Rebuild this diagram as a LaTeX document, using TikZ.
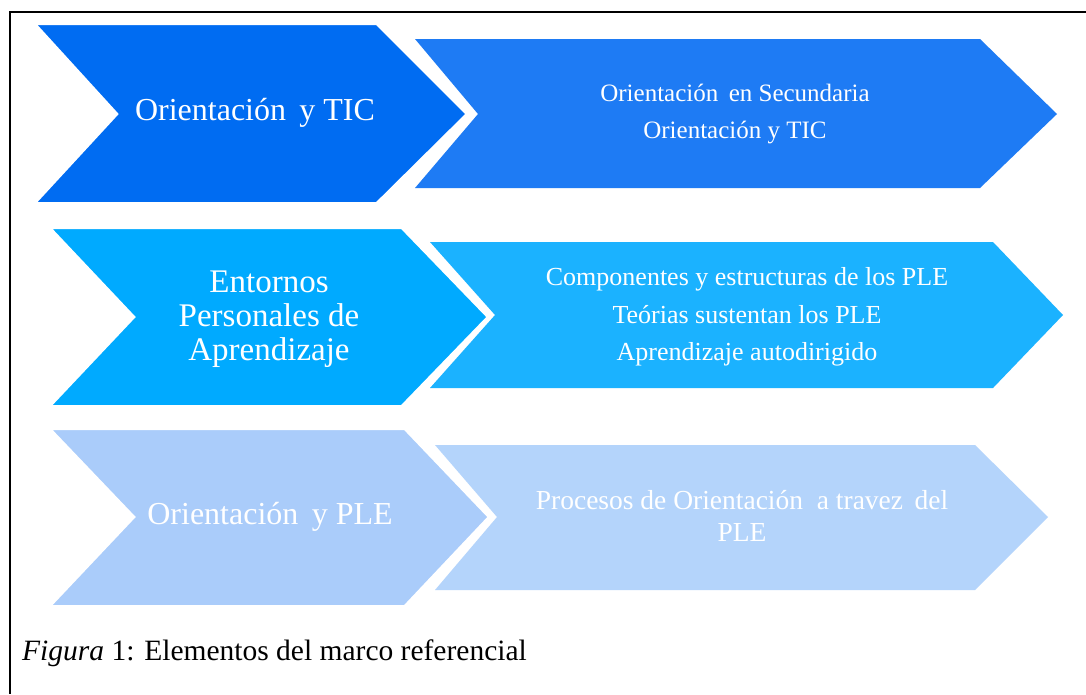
\documentclass[tikz,border=0pt]{standalone}
\usepackage{fontspec}
\setmainfont{Liberation Serif}
\definecolor{cOneL}{RGB}{0,108,242}
\definecolor{cOneR}{RGB}{30,123,244}
\definecolor{cTwoL}{RGB}{0,170,255}
\definecolor{cTwoR}{RGB}{27,178,255}
\definecolor{cThrL}{RGB}{170,204,250}
\definecolor{cThrR}{RGB}{180,212,251}
\tikzset{
  chevL/.style={draw=white,line width=4pt,line join=miter},
  chevR/.style={draw=none},
  bigtxt/.style={text=white,align=center,font=\fontsize{32}{34}\selectfont,inner sep=0pt},
  smalltxt/.style={text=white,align=center,font=\fontsize{25}{37}\selectfont,inner sep=0pt},
}
\begin{document}
\begin{tikzpicture}[x=1pt,y=-1pt]
\useasboundingbox (0,0) rectangle (1086,694);
\fill[white] (0,0) rectangle (1086,694);
% frame
\draw[line width=2.5pt] (1086,12) -- (10,12) -- (10,694);
% row 1
\fill[cOneR,chevR] (415,39) -- (980,39) -- (1057,114) -- (980,188) -- (415,188) -- (478,114) -- cycle;
\filldraw[fill=cOneL,chevL] (33,23) -- (377,23) -- (468,114) -- (377,204) -- (33,204) -- (116,114) -- cycle;
\node[bigtxt] (t1) at (255,113) {Orientación\, y TIC};
\node[smalltxt] (s1) at (735,114) {Orientación\, en Secundaria\\Orientación y TIC};
% row 2
\fill[cTwoR,chevR] (430,242) -- (993,242) -- (1063,315) -- (993,388) -- (430,388) -- (495,315) -- cycle;
\filldraw[fill=cTwoL,chevL] (48,227) -- (402,227) -- (489,317) -- (402,407) -- (48,407) -- (133,317) -- cycle;
\node[bigtxt,font=\fontsize{33}{34}\selectfont] (t2) at (269,319) {Entornos\\Personales de\\Aprendizaje};
\node[smalltxt,font=\fontsize{26}{37.5}\selectfont] (s2) at (747,317) {Componentes y estructuras de los PLE\\Teórias sustentan los PLE\\Aprendizaje autodirigido};
% row 3
\fill[cThrR,chevR] (435,445) -- (975,445) -- (1048,517) -- (975,590) -- (435,590) -- (497,517) -- cycle;
\filldraw[fill=cThrL,chevL] (48,428) -- (405,428) -- (490,517) -- (405,607) -- (48,607) -- (133,517) -- cycle;
\node[bigtxt] (t3) at (270,517) {Orientación\, y PLE};
\node[text=white,align=center,font=\fontsize{27.5}{32}\selectfont,inner sep=0pt] (s3) at (742,516) {Procesos de Orientación\ \ a travez\, del\\PLE};
% caption
\node[anchor=base west,inner sep=0pt,font=\fontsize{29.5}{30}\selectfont] (cap) at (22,660) {\textit{Figura} 1: Elementos del marco referencial};
\end{tikzpicture}
\end{document}
